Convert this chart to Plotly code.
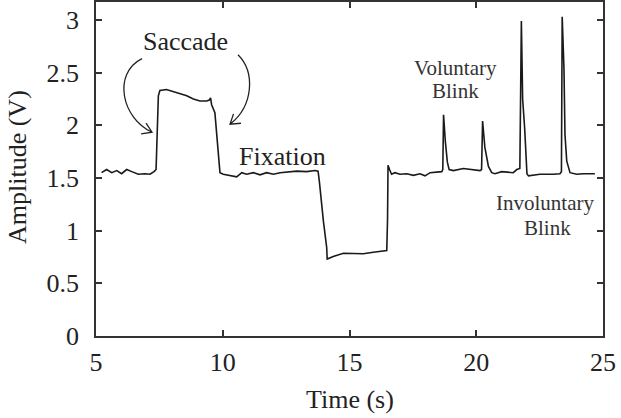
import plotly.graph_objects as go

# ---- data ----
time_s = [
    5.22, 5.42, 5.62, 5.82, 6.01, 6.21, 6.41, 6.67, 6.93, 7.13, 7.29, 7.37,
    7.46, 7.52, 7.78, 8.05, 8.31, 8.58, 8.84, 9.10, 9.37, 9.47, 9.52, 9.56, 9.69, 9.78, 9.89,
    10.02, 10.29, 10.55, 10.75, 10.94, 11.21, 11.47, 11.73, 12.00, 12.26, 12.59, 12.92, 13.31, 13.64, 13.76,
    13.81, 13.97, 14.10, 14.12,
    14.36, 14.76, 15.15, 15.54, 15.94, 16.33, 16.47,
    16.50, 16.52, 16.58, 16.66, 16.79, 16.99, 17.26, 17.52, 17.78, 17.98, 18.18, 18.64, 18.68,
    18.71, 18.78, 18.86, 18.93, 19.10, 19.49, 19.75, 20.15, 20.21,
    20.25, 20.34, 20.48, 20.61, 20.74, 21.00, 21.46, 21.60, 21.72,
    21.78, 21.83, 21.91, 22.00, 22.06, 22.51, 23.04, 23.30, 23.36,
    23.39, 23.46, 23.50, 23.57, 23.70, 23.96, 24.22, 24.68,
]
amplitude_v = [
    1.55, 1.58, 1.55, 1.57, 1.54, 1.58, 1.56, 1.535, 1.54, 1.535, 1.56, 1.58,
    2.28, 2.33, 2.34, 2.32, 2.30, 2.28, 2.25, 2.23, 2.23, 2.24, 2.26, 2.195, 2.12, 1.85, 1.55,
    1.535, 1.52, 1.51, 1.55, 1.535, 1.55, 1.53, 1.55, 1.535, 1.55, 1.56, 1.565, 1.56, 1.57, 1.565,
    1.47, 1.09, 0.84, 0.73,
    0.755, 0.786, 0.78, 0.78, 0.795, 0.805, 0.81,
    1.10, 1.62, 1.58, 1.535, 1.55, 1.535, 1.54, 1.525, 1.54, 1.52, 1.55, 1.56, 1.58,
    2.10, 1.85, 1.65, 1.58, 1.57, 1.59, 1.58, 1.57, 1.58,
    2.04, 1.79, 1.61, 1.55, 1.54, 1.56, 1.55, 1.58, 1.59,
    2.99, 2.25, 1.97, 1.54, 1.52, 1.535, 1.535, 1.54, 1.56,
    3.03, 2.54, 1.91, 1.66, 1.55, 1.535, 1.54, 1.54,
]
x_ticks = [5, 10, 15, 20, 25]
y_ticks = [0, 0.5, 1, 1.5, 2, 2.5, 3]
y_tick_labels = ["0", "0.5", "1", "1.5", "2", "2.5", "3"]

# ---- layout geometry ----
W, H = 621, 418
ML, MR, MT, MB = 96, 18, 0, 82
X_RANGE = [5, 25]
Y_RANGE = [0, 3.17]
PW, PH = W - ML - MR, H - MT - MB

def px2d(px, py):
    x = X_RANGE[0] + (px - ML) / PW * (X_RANGE[1] - X_RANGE[0])
    y = Y_RANGE[0] + (MT + PH - py) / PH * (Y_RANGE[1] - Y_RANGE[0])
    return x, y

def curved_arrow(p0, c1, c2, p3, head_len=11, half_angle=33):
    import math
    pts = [px2d(*p) for p in (p0, c1, c2, p3)]
    path = "M {},{} C {},{} {},{} {},{}".format(*[v for p in pts for v in p])
    dx, dy = p3[0] - c2[0], p3[1] - c2[1]
    n = math.hypot(dx, dy)
    bx, by = -dx / n, -dy / n
    arms = []
    for s in (1, -1):
        a = math.radians(half_angle * s)
        ax = bx * math.cos(a) - by * math.sin(a)
        ay = bx * math.sin(a) + by * math.cos(a)
        arms.append((p3[0] + head_len * ax, p3[1] + head_len * ay))
    h = [px2d(*arms[0]), px2d(*p3), px2d(*arms[1])]
    path += " M {},{} L {},{} L {},{}".format(*[v for p in h for v in p])
    return dict(type="path", path=path, xref="x", yref="y",
                line=dict(color="#222", width=1.3))

FONT = "Liberation Serif"
TXT = "#222"

fig = go.Figure()
fig.add_trace(go.Scatter(x=time_s, y=amplitude_v, mode="lines",
                         line=dict(color="#1a1a1a", width=1.6),
                         hoverinfo="skip", showlegend=False))

axis_common = dict(showline=True, mirror="ticks", linecolor="#333", linewidth=1.5,
                   ticks="inside", ticklen=6, tickwidth=1.5, tickcolor="#333",
                   showgrid=False, zeroline=False,
                   tickfont=dict(family=FONT, size=26, color=TXT))

fig.update_xaxes(range=X_RANGE, tickvals=x_ticks, ticklabelstandoff=2, **axis_common)
fig.update_yaxes(range=Y_RANGE, tickvals=y_ticks, ticktext=y_tick_labels,
                 ticklabelstandoff=10, **axis_common)

def txt(x, y, s, size, color=TXT):
    fig.add_annotation(x=x, y=y, xref="x", yref="y", text=s, showarrow=False,
                       xanchor="center", yanchor="middle",
                       font=dict(family=FONT, size=size, color=color))

txt(*px2d(185, 40), "Saccade", 26)
txt(*px2d(282.5, 155), "Fixation", 26)
txt(*px2d(455, 66), "Voluntary", 21, "#333")
txt(*px2d(455.8, 89.5), "Blink", 21, "#333")
txt(*px2d(545, 202.5), "Involuntary", 21, "#333")
txt(*px2d(547.5, 227.5), "Blink", 21, "#333")

# axis titles
fig.add_annotation(x=0.5, y=0, xref="paper", yref="paper", text="Time (s)",
                   showarrow=False, xanchor="center", yanchor="middle", yshift=-63,
                   font=dict(family=FONT, size=26, color=TXT))
fig.add_annotation(x=0, y=0.5, xref="paper", yref="paper", text="Amplitude (V)",
                   showarrow=False, xanchor="center", yanchor="middle", xshift=-79,
                   yshift=2, textangle=-90,
                   font=dict(family=FONT, size=26, color=TXT))

fig.update_layout(
    width=W, height=H,
    margin=dict(l=ML, r=MR, t=MT, b=MB, pad=0),
    paper_bgcolor="white", plot_bgcolor="white",
    shapes=[
        curved_arrow((142, 57), (112, 72), (122, 117.5), (152, 131)),
        curved_arrow((238, 53), (255, 70), (254, 104), (230, 123)),
    ],
)

fig.write_html("out.html")
